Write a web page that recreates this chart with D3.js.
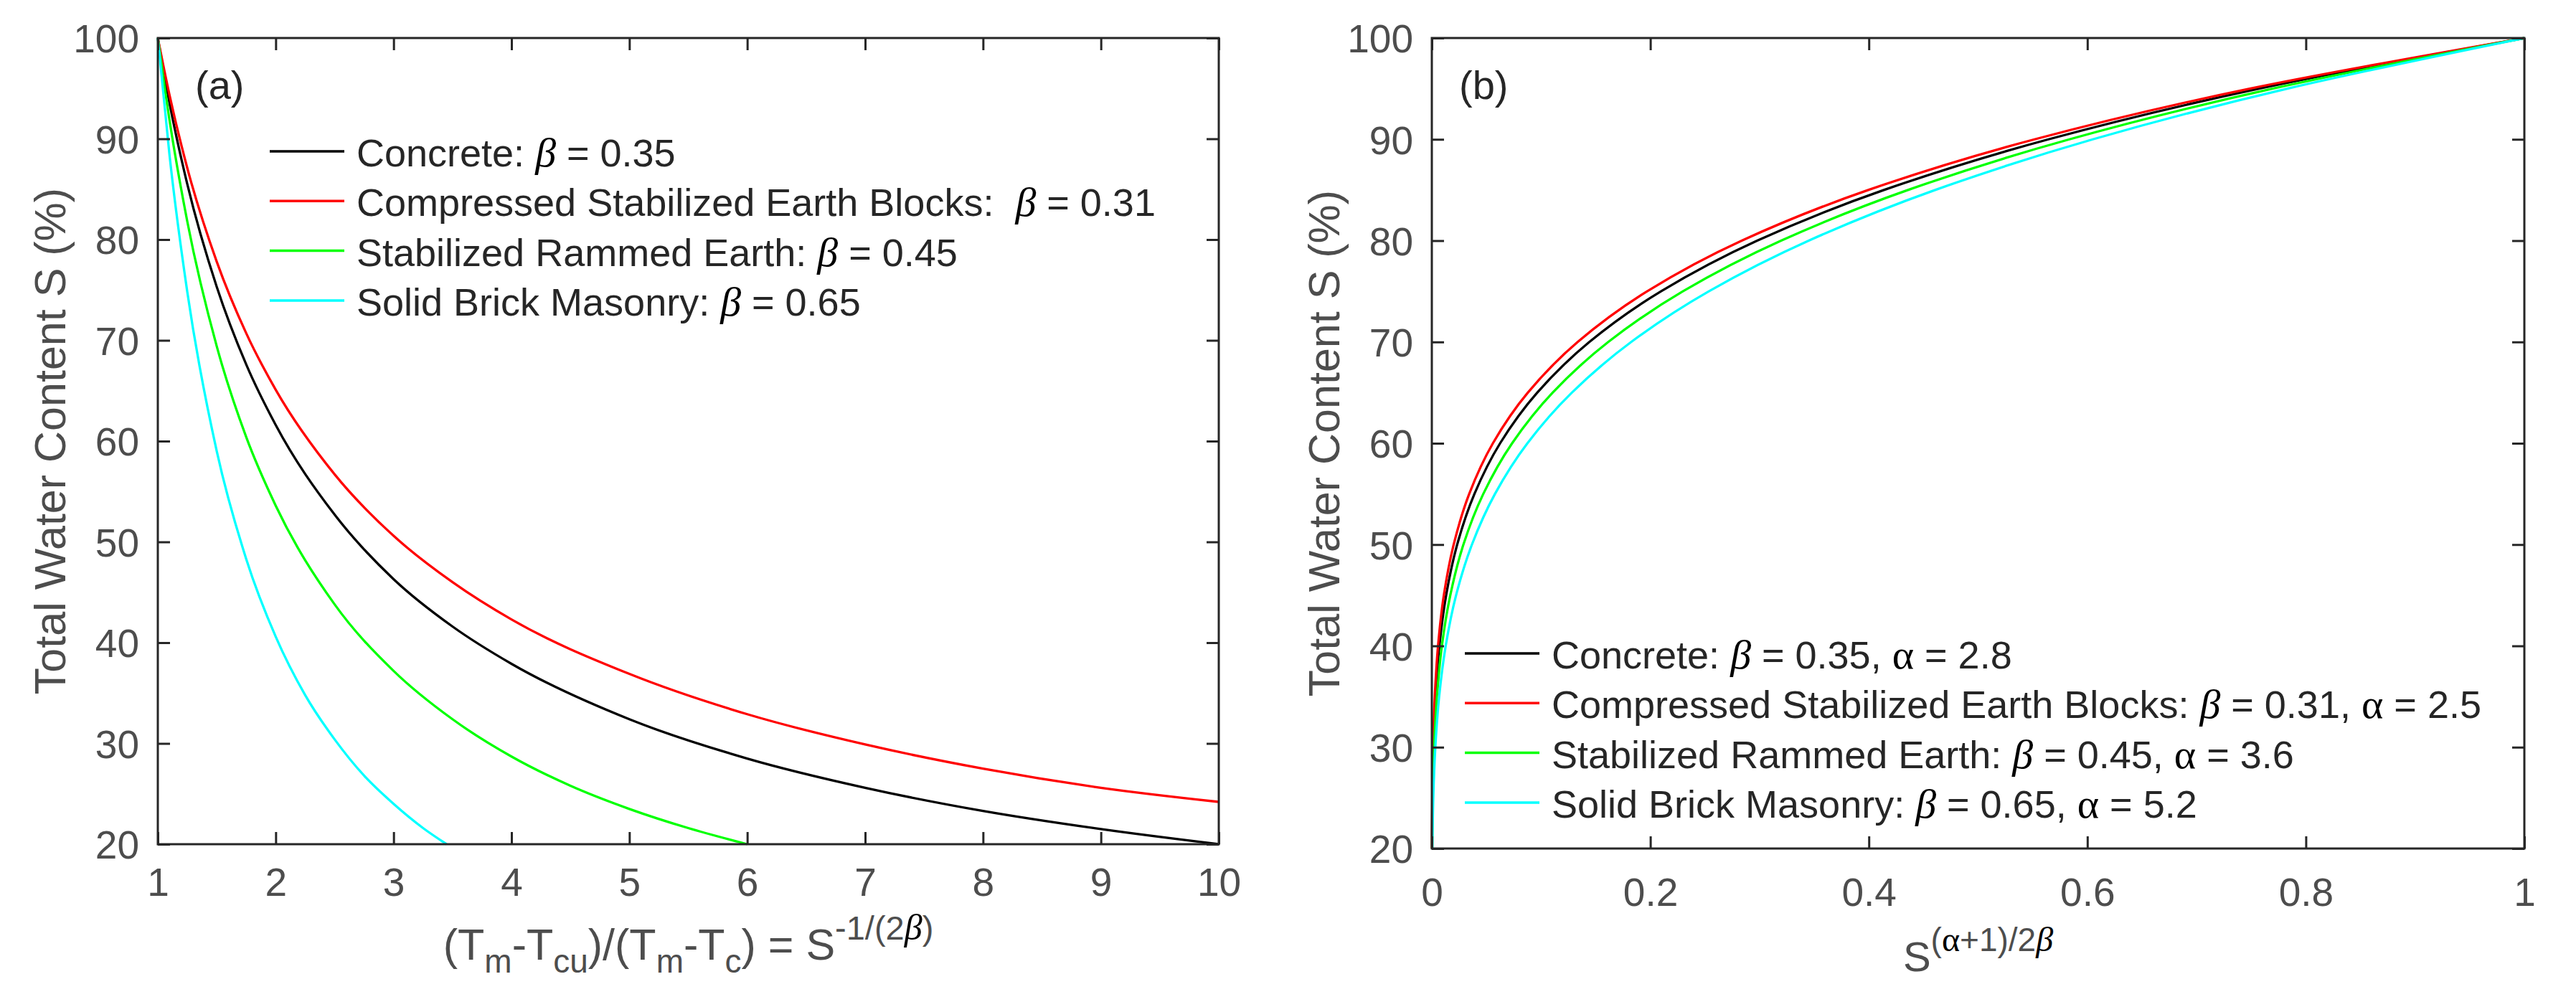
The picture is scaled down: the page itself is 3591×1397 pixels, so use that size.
<!DOCTYPE html>
<html>
<head>
<meta charset="utf-8">
<script src="https://cdn.jsdelivr.net/npm/d3@7"></script>
<style>
  body { margin: 0; background: #fff; }
  text { font-family: "Liberation Sans", Arial, Helvetica, sans-serif; }
</style>
</head>
<body>
<script>
/*
  Values
*/
// panel (a): x = (Tm-Tcu)/(Tm-Tc), S in %
var concreteX = [1, 1.1, 1.25, 1.5, 1.75, 2, 2.5, 3, 3.5, 4, 5, 6, 7, 8, 9, 10];
var concreteS = [100, 93.5, 85.5, 75.3, 67.6, 61.6, 52.7, 46.3, 41.6, 37.9, 32.4, 28.5, 25.6, 23.3, 21.5, 20.0];
var csebX = [1, 1.1, 1.25, 1.5, 1.75, 2, 2.5, 3, 3.5, 4, 5, 6, 7, 8, 9, 10];
var csebS = [100, 94.3, 87.1, 77.8, 70.7, 65.1, 56.7, 50.6, 46.0, 42.3, 36.9, 32.9, 29.9, 27.5, 25.6, 24.2];
var rammedX = [1, 1.1, 1.25, 1.5, 1.75, 2, 2.5, 3, 3.5, 4, 4.5, 5, 5.5, 6];
var rammedS = [100, 91.8, 81.8, 69.4, 60.4, 53.6, 43.8, 37.2, 32.4, 28.7, 25.8, 23.5, 21.6, 20.0];
var brickX = [1, 1.1, 1.25, 1.5, 1.75, 2, 2.25, 2.5, 2.75, 3, 3.25, 3.45];
var brickS = [100, 88.3, 74.8, 59.0, 48.3, 40.6, 34.8, 30.4, 26.8, 24.0, 21.6, 20.0];

// panel (b): S in % and the matching S^((a+1)/2b)
var bS = [20, 25, 30, 35, 40, 45, 50, 55, 60, 65, 70, 75, 80, 85, 90, 95, 100];
var concreteB = [0.0002, 0.0005, 0.0015, 0.0033, 0.0069, 0.0131, 0.0232, 0.0390, 0.0625, 0.0965, 0.1442, 0.2098, 0.2978, 0.4138, 0.5644, 0.7570, 1];
var csebB = [0.0001, 0.0004, 0.0011, 0.0027, 0.0057, 0.0110, 0.0200, 0.0342, 0.0559, 0.0879, 0.1335, 0.1971, 0.2837, 0.3995, 0.5517, 0.7486, 1];
var rammedB = [0.0003, 0.0008, 0.0021, 0.0047, 0.0092, 0.0169, 0.0289, 0.0471, 0.0735, 0.1106, 0.1615, 0.2298, 0.3197, 0.4358, 0.5836, 0.7694, 1];
var brickB = [0.0005, 0.0013, 0.0032, 0.0067, 0.0127, 0.0222, 0.0367, 0.0578, 0.0875, 0.1282, 0.1825, 0.2536, 0.3450, 0.4607, 0.6050, 0.7830, 1];

// legend and ticks
var names = ["Concrete", "Compressed Stabilized Earth Blocks", "Stabilized Rammed Earth", "Solid Brick Masonry"];
var betas = ["0.35", "0.31", "0.45", "0.65"];
var alphas = ["2.8", "2.5", "3.6", "5.2"];
var colors = ["#000000", "#ff0000", "#00ff00", "#00ffff"];
var ticksA = [1, 2, 3, 4, 5, 6, 7, 8, 9, 10];
var ticksB = [0, 0.2, 0.4, 0.6, 0.8, 1];
var ticksS = [20, 30, 40, 50, 60, 70, 80, 90, 100];

/*
  D3 setup
*/
var W = 3591, H = 1397;
var axisColor = "#262626", labelColor = "#4d4d4d";

var svg = d3.select("body").append("svg")
  .attr("width", W)
  .attr("height", H);

// write a text made of pieces (sub, sup, greek)
function rich(sel, parts) {
  var shift = 0;
  parts.forEach(function (p) {
    var target = p.sub ? 18 : (p.sup ? -28 : 0);
    var ts = sel.append("tspan").text(p.t).attr("dy", target - shift);
    shift = target;
    if (p.sub || p.sup) ts.style("font-size", p.size || "46px");
    if (p.greek) {
      ts.style("font-family", "'Liberation Serif', 'Times New Roman', serif")
        .style("fill", "#000");
      if (p.italic) ts.style("font-style", "italic");
      if (p.gsize) ts.style("font-size", p.gsize);
    }
  });
}

function panel(cfg) {
  var x = d3.scaleLinear().domain(cfg.xdom).range([cfg.left, cfg.right]);
  var y = d3.scaleLinear().domain([20, 100]).range([cfg.bottom, cfg.top]);

  // curves
  cfg.series.forEach(function (s, i) {
    var pts = s.xs.map(function (v, j) { return [v, s.ys[j]]; });
    svg.append("path")
      .datum(pts)
      .attr("fill", "none")
      .attr("stroke", colors[i])
      .attr("stroke-width", 3.3)
      .attr("d", d3.line()
        .x(function (d) { return x(d[0]); })
        .y(function (d) { return y(d[1]); })
        .curve(cfg.curve));
  });

  // axes, ticks inward on all four sides
  var gb = svg.append("g").attr("transform", "translate(0," + cfg.bottom + ")")
    .call(d3.axisBottom(x).tickValues(cfg.xticks).tickSize(-17).tickSizeOuter(0)
      .tickFormat(cfg.xfmt));
  gb.selectAll("text").attr("y", cfg.xlabOff).attr("dy", 0);
  var gl = svg.append("g").attr("transform", "translate(" + cfg.left + ",0)")
    .call(d3.axisLeft(y).tickValues(ticksS).tickSize(-17).tickSizeOuter(0).tickPadding(26));
  var gt = svg.append("g").attr("transform", "translate(0," + cfg.top + ")")
    .call(d3.axisTop(x).tickValues(cfg.xticks).tickSize(-17).tickSizeOuter(0).tickFormat(""));
  var gr = svg.append("g").attr("transform", "translate(" + cfg.right + ",0)")
    .call(d3.axisRight(y).tickValues(ticksS).tickSize(-17).tickSizeOuter(0).tickFormat(""));
  [gb, gl, gt, gr].forEach(function (g) {
    g.select(".domain").remove();
    g.selectAll("line").attr("stroke", axisColor).attr("stroke-width", 3);
    g.selectAll("text").attr("fill", labelColor)
      .style("font-size", "55px")
      .style("font-family", "'Liberation Sans', Arial, sans-serif");
  });
  gl.selectAll("text").attr("dy", "0.36em");

  svg.append("rect")
    .attr("x", cfg.left).attr("y", cfg.top)
    .attr("width", cfg.right - cfg.left).attr("height", cfg.bottom - cfg.top)
    .attr("fill", "none").attr("stroke", axisColor).attr("stroke-width", 3);

  // y label
  svg.append("text")
    .attr("transform", "translate(" + (cfg.left - 129) + "," + ((cfg.top + cfg.bottom) / 2) + ") rotate(-90)")
    .attr("text-anchor", "middle")
    .attr("fill", labelColor)
    .style("font-size", "61px")
    .text("Total Water Content S (%)");

  // x label
  var xl = svg.append("text")
    .attr("x", (cfg.left + cfg.right) / 2)
    .attr("y", cfg.xtitleY)
    .attr("text-anchor", "middle")
    .attr("fill", labelColor)
    .style("font-size", cfg.xtitleSize)
    .style("white-space", "pre");
  rich(xl, cfg.xtitle);

  // panel letter
  svg.append("text")
    .attr("x", cfg.letterX).attr("y", 138)
    .attr("fill", "#262626")
    .style("font-size", "56px")
    .text(cfg.letter);

  // legend
  names.forEach(function (n, i) {
    var ly = cfg.legY + i * 69.3;
    svg.append("line")
      .attr("x1", cfg.legX).attr("x2", cfg.legX + 104)
      .attr("y1", ly).attr("y2", ly)
      .attr("stroke", colors[i]).attr("stroke-width", 3.5);
    var t = svg.append("text")
      .attr("x", cfg.legX + 121).attr("y", ly + 21)
      .attr("fill", "#262626")
      .style("font-size", "54px")
      .style("white-space", "pre");
    rich(t, cfg.legend(i));
  });
}

/*
  Panel (a)
*/
panel({
  left: 220, right: 1699, top: 53, bottom: 1177,
  xdom: [1, 10], xticks: ticksA, xfmt: d3.format("d"), xlabOff: 72,
  curve: d3.curveMonotoneX,
  series: [
    { xs: concreteX, ys: concreteS },
    { xs: csebX, ys: csebS },
    { xs: rammedX, ys: rammedS },
    { xs: brickX, ys: brickS }
  ],
  xtitleY: 1338, xtitleSize: "61px",
  xtitle: [
    { t: "(T" }, { t: "m", sub: true }, { t: "-T" }, { t: "cu", sub: true },
    { t: ")/(T" }, { t: "m", sub: true }, { t: "-T" }, { t: "c", sub: true },
    { t: ") = S" }, { t: "-1/(2", sup: true, size: "47px" },
    { t: "\u03b2", sup: true, size: "50px", greek: true, italic: true },
    { t: ")", sup: true, size: "47px" }
  ],
  letter: "(a)", letterX: 272,
  legX: 376, legY: 211,
  legend: function (i) {
    return [
      { t: names[i] + ":" + (i === 1 ? "  " : " ") },
      { t: "\u03b2", greek: true, italic: true, gsize: "58px" },
      { t: " = " + betas[i] }
    ];
  }
});

/*
  Panel (b)
*/
panel({
  left: 1996, right: 3519, top: 53, bottom: 1183,
  xdom: [0, 1], xticks: ticksB, xfmt: function (d) { return String(d); }, xlabOff: 80,
  curve: d3.curveMonotoneY,
  series: [
    { xs: concreteB, ys: bS },
    { xs: csebB, ys: bS },
    { xs: rammedB, ys: bS },
    { xs: brickB, ys: bS }
  ],
  xtitleY: 1354, xtitleSize: "58px",
  xtitle: [
    { t: "S" }, { t: "(", sup: true, size: "46px" },
    { t: "\u03b1", sup: true, size: "48px", greek: true },
    { t: "+1)/2", sup: true, size: "46px" },
    { t: "\u03b2", sup: true, size: "48px", greek: true, italic: true }
  ],
  letter: "(b)", letterX: 2034,
  legX: 2042, legY: 911,
  legend: function (i) {
    return [
      { t: names[i] + ": " },
      { t: "\u03b2", greek: true, italic: true, gsize: "58px" },
      { t: " = " + betas[i] + ", " },
      { t: "\u03b1", greek: true, gsize: "58px" },
      { t: " = " + alphas[i] }
    ];
  }
});
</script>
</body>
</html>
